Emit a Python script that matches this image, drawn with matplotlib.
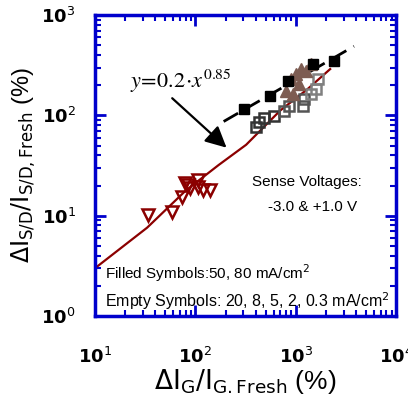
import matplotlib
matplotlib.use('Agg')
import matplotlib.pyplot as plt
from matplotlib.ticker import LogLocator, NullFormatter, FixedLocator, FixedFormatter

plt.rcParams['font.family'] = ['Liberation Sans', 'DejaVu Sans']
plt.rcParams['mathtext.fontset'] = 'dejavusans'

# red fit line (solid)
fit_x = [10, 33, 80, 170, 320, 700, 1300, 2200]
fit_y = [3.0, 7.6, 17.8, 32, 51, 112, 182, 290]

# black dashed fit line
dash_x = [191, 3800]
dash_y = [87, 490]

# filled symbols: black squares (80 mA/cm2), brown triangles (50 mA/cm2)
black_x = [302, 550, 832, 1479, 2399]
black_y = [115, 155, 219, 324, 347]
brown_x = [794, 891, 1000, 1122, 1259, 1072, 1413, 933]
brown_y = [174, 229, 257, 288, 275, 204, 324, 162]

# empty symbols: gray squares, red down triangles
gray_dark_x = [398, 427, 479, 603]
gray_dark_y = [76, 87, 95, 98]
gray_mid_x = [759, 851, 1175, 1202]
gray_mid_y = [110, 123, 123, 145]
gray_light_x = [1413, 1585, 1660]
gray_light_y = [162, 182, 229]
red_x = [34, 59, 74, 79, 89, 105, 107, 120, 141, 85]
red_y = [10.2, 11, 15.5, 21.4, 19, 22.9, 19.5, 18.2, 18.2, 20.4]

decades = [1e0, 1e1, 1e2, 1e3, 1e4]
xtick_labels = [r'$\mathbf{10}^{1}$', r'$\mathbf{10}^{2}$', r'$\mathbf{10}^{3}$', r'$\mathbf{10}^{4}$']
ytick_labels = [r'$\mathbf{10}^{0}$', r'$\mathbf{10}^{1}$', r'$\mathbf{10}^{2}$', r'$\mathbf{10}^{3}$']

fig = plt.figure(figsize=(4.08, 3.99), dpi=100)
ax = fig.add_axes([0.233, 0.208, 0.738, 0.754])
ax.set_xscale('log')
ax.set_yscale('log')

ax.plot(fit_x, fit_y, color='#8b0000', lw=1.6, zorder=2)
ax.plot(dash_x, dash_y, color='black', lw=2.0, dashes=(6, 3), zorder=2)

ax.plot(red_x, red_y, linestyle='none', marker='v', ms=8, mfc='none', mec='#8b0000', mew=1.8, zorder=3)
ax.plot(gray_dark_x, gray_dark_y, linestyle='none', marker='s', ms=7, mfc='none', mec='#333333', mew=1.8, zorder=3)
ax.plot(gray_mid_x, gray_mid_y, linestyle='none', marker='s', ms=7, mfc='none', mec='#555555', mew=1.8, zorder=3)
ax.plot(gray_light_x, gray_light_y, linestyle='none', marker='s', ms=7, mfc='none', mec='#808080', mew=1.8, zorder=3)
ax.plot(brown_x, brown_y, linestyle='none', marker='^', ms=9, color='#7d5c52', zorder=4)
ax.plot(black_x, black_y, linestyle='none', marker='s', ms=7, color='black', zorder=5)

ax.set_xlim(10, 1e4)
ax.set_ylim(1, 1e3)

ax.xaxis.set_major_locator(FixedLocator(decades[1:]))
ax.xaxis.set_major_formatter(FixedFormatter(xtick_labels))
ax.yaxis.set_major_locator(FixedLocator(decades[:4]))
ax.yaxis.set_major_formatter(FixedFormatter(ytick_labels))
ax.xaxis.set_minor_locator(LogLocator(base=10, subs=range(2, 10)))
ax.yaxis.set_minor_locator(LogLocator(base=10, subs=range(2, 10)))
ax.xaxis.set_minor_formatter(NullFormatter())
ax.yaxis.set_minor_formatter(NullFormatter())

blue = '#0000cc'
for s in ax.spines.values():
    s.set_color(blue)
    s.set_linewidth(2.5)
ax.tick_params(which='both', direction='in', top=True, right=True, color=blue)
ax.tick_params(which='major', length=8, width=2)
ax.tick_params(which='minor', length=4, width=1.5)
ax.tick_params(axis='x', which='major', pad=22, labelsize=13)
ax.tick_params(axis='y', which='major', pad=14, labelsize=13)

ax.set_xlabel(r'$\Delta\mathrm{I}_{\mathrm{G}}/\mathrm{I}_{\mathrm{G.Fresh}}$ (%)', fontsize=19, labelpad=0)
ax.set_ylabel(r'$\Delta\mathrm{I}_{\mathrm{S/D}}/\mathrm{I}_{\mathrm{S/D,Fresh}}$ (%)', fontsize=17, labelpad=2)

ax.text(0.52, 0.445, 'Sense Voltages:', transform=ax.transAxes, fontsize=11, ha='left', va='center')
ax.text(0.575, 0.362, '-3.0 & +1.0 V', transform=ax.transAxes, fontsize=11, ha='left', va='center')
ax.text(0.032, 0.143, r'Filled Symbols:50, 80 mA/cm$^2$', transform=ax.transAxes, fontsize=11, ha='left', va='center')
ax.text(0.032, 0.05, r'Empty Symbols: 20, 8, 5, 2, 0.3 mA/cm$^2$', transform=ax.transAxes, fontsize=11.5, ha='left', va='center')

ax.annotate('', xy=(214, 45.7), xytext=(56, 155),
            arrowprops=dict(arrowstyle='-|>', mutation_scale=32, lw=1.6, color='black'), zorder=6)
ax.text(22.4, 219, r'$y\!=\!0.2\!\cdot\! x^{0.85}$', fontsize=16, math_fontfamily='stix', va='center')

fig.savefig('out.png', dpi=100)
